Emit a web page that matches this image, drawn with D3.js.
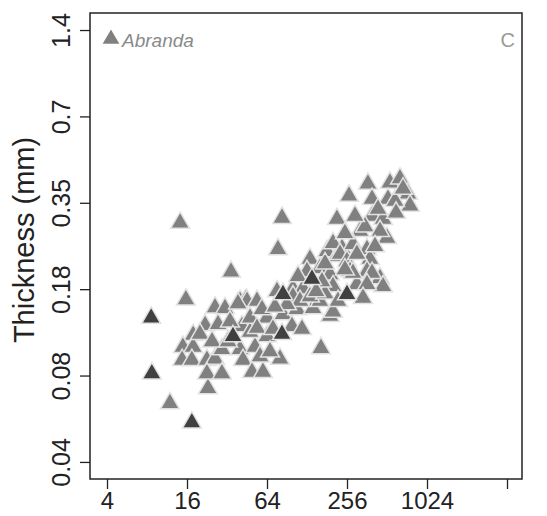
<!DOCTYPE html>
<html>
<head>
<meta charset="utf-8">
<script src="https://cdn.jsdelivr.net/npm/d3@7"></script>
<style>
  html, body { margin: 0; padding: 0; background: #fff; }
  svg { display: block; font-family: "Liberation Sans", Arial, Helvetica, sans-serif; }
</style>
</head>
<body>
<svg id="chart" width="547" height="516"></svg>
<script>
// Shell area (x) versus thickness in mm (y), Abranda specimens
const grayArea = [14.2, 83.0, 77.4, 34.3, 15.7, 11.9, 23.0, 80.2, 163, 21.9, 26.0, 30.9, 40.1, 44.5,
  17.8, 14.9, 17.8, 27.4, 41.5, 33.7, 14.7, 17.4, 22.6, 26.0, 29.3, 40.1, 42.2, 22.6, 29.3, 49.4,
  59.7, 64, 20.0, 24.7, 52.0, 56.7, 67.4, 47.7, 32.6, 134.8, 128, 160, 181, 215, 235, 76.1, 100.4,
  119.4, 190.7, 200.9, 45.3, 53.8, 38.7, 64, 84.4, 107.6, 142, 160, 190.7, 47.7, 53.8, 71.0, 98.7,
  117.4, 58.7, 100.4, 200.9, 113.4, 90.5, 73.5, 134.8, 174.8, 219, 166, 150, 175, 109.5,
  215, 265, 368, 539, 641, 395, 521, 737, 763, 395, 478, 512, 321, 284, 200.9, 227, 362, 381, 256,
  304, 270, 362, 454, 304, 478, 284, 395, 362, 338, 588, 438, 350, 599, 454, 416, 247, 676, 294, 247];
const grayThick = [0.298, 0.310, 0.241, 0.201, 0.161, 0.070, 0.079, 0.100, 0.109, 0.131, 0.151, 0.150, 0.159, 0.161,
  0.121, 0.110, 0.110, 0.132, 0.130, 0.135, 0.099, 0.099, 0.099, 0.100, 0.108, 0.108, 0.099, 0.089, 0.089, 0.090,
  0.090, 0.120, 0.122, 0.115, 0.110, 0.102, 0.106, 0.124, 0.115, 0.223, 0.202, 0.207, 0.237, 0.228, 0.243, 0.172, 0.176,
  0.176, 0.197, 0.179, 0.159, 0.159, 0.156, 0.139, 0.143, 0.149, 0.150, 0.159, 0.141, 0.139, 0.128, 0.127, 0.130,
  0.127, 0.149, 0.165, 0.146, 0.159, 0.155, 0.152, 0.165, 0.169, 0.159, 0.186, 0.172, 0.215, 0.194,
  0.307, 0.370, 0.408, 0.411, 0.425, 0.361, 0.361, 0.376, 0.342, 0.315, 0.307, 0.264, 0.279, 0.251, 0.253, 0.232, 0.241, 0.223, 0.219,
  0.232, 0.202, 0.202, 0.191, 0.182, 0.179, 0.199, 0.199, 0.182, 0.163, 0.355, 0.333, 0.289, 0.323, 0.279, 0.247, 0.274, 0.392, 0.315, 0.205];

const darkArea = [8.6, 8.7, 17.4, 35.5, 83.0, 139.6, 84.4, 256];
const darkThick = [0.139, 0.089, 0.060, 0.120, 0.122, 0.190, 0.168, 0.168];

const xTicks = [4, 16, 64, 256, 1024, 4096];
const xTickLabels = ["4", "16", "64", "256", "1024", ""];
const yTicks = [1.4, 0.7, 0.35, 0.175, 0.0875, 0.04375];
const yTickLabels = ["1.4", "0.7", "0.35", "0.18", "0.08", "0.04"];

const yTitle = "Thickness (mm)";
const legendLabel = "Abranda";
const panelLetter = "C";

const svg = d3.select("#chart");
const plot = { left: 90, right: 522, top: 13, bottom: 479 };

const x = d3.scaleLog().base(2).domain([2.979, 5312]).range([plot.left, plot.right]);
const y = d3.scaleLog().base(2).domain([0.03815, 1.605]).range([plot.bottom, plot.top]);

const fontSize = 25;

// x axis
const xAxis = d3.axisBottom(x).tickValues(xTicks)
  .tickFormat((d, i) => xTickLabels[i]).tickSize(10).tickPadding(3);
const gx = svg.append("g").attr("transform", `translate(0,${plot.bottom})`).call(xAxis);
gx.select(".domain").remove();
gx.selectAll(".tick line").attr("stroke", "#222").attr("stroke-width", 1.3);
gx.selectAll(".tick text").attr("fill", "#222").style("font-size", "24px")
  .style("font-family", "'Liberation Sans', Arial, sans-serif");

// y axis with vertical tick labels
const yAxis = d3.axisLeft(y).tickValues(yTicks)
  .tickFormat((d, i) => yTickLabels[i]).tickSize(10);
const gy = svg.append("g").attr("transform", `translate(${plot.left},0)`).call(yAxis);
gy.select(".domain").remove();
gy.selectAll(".tick line").attr("stroke", "#222").attr("stroke-width", 1.3);
gy.selectAll(".tick text")
  .attr("fill", "#222")
  .attr("x", null).attr("dy", null)
  .attr("text-anchor", "middle")
  .attr("transform", "translate(-20,0) rotate(-90)")
  .style("font-size", fontSize + "px")
  .style("font-family", "'Liberation Sans', Arial, sans-serif");

// axis title
svg.append("text")
  .attr("transform", `translate(34,${(plot.top + plot.bottom) / 2 - 6}) rotate(-90)`)
  .attr("text-anchor", "middle")
  .attr("fill", "#222")
  .style("font-size", "29px")
  .text(yTitle);

// points
const tri = d3.symbol().type(d3.symbolTriangle).size(155);
const grayPts = grayArea.map((a, i) => ({ a, t: grayThick[i] }));
const darkPts = darkArea.map((a, i) => ({ a, t: darkThick[i] }));

svg.append("g").selectAll("path").data(grayPts).join("path")
  .attr("d", tri)
  .attr("transform", d => `translate(${x(d.a)},${y(d.t)})`)
  .attr("fill", "#808080")
  .attr("stroke", "#e2e2e2")
  .attr("stroke-width", 1.5);

svg.append("g").selectAll("path").data(darkPts).join("path")
  .attr("d", tri)
  .attr("transform", d => `translate(${x(d.a)},${y(d.t)})`)
  .attr("fill", "#404040")
  .attr("stroke", "#e2e2e2")
  .attr("stroke-width", 1.5);

// legend
svg.append("path")
  .attr("d", d3.symbol().type(d3.symbolTriangle).size(120)())
  .attr("transform", "translate(111,39)")
  .attr("fill", "#808080");
svg.append("text")
  .attr("x", 122).attr("y", 47)
  .attr("fill", "#8a8a8a")
  .style("font-size", "19px")
  .style("font-style", "italic")
  .text(legendLabel);

svg.append("text")
  .attr("x", 515).attr("y", 47)
  .attr("text-anchor", "end")
  .attr("fill", "#999")
  .style("font-size", "20px")
  .text(panelLetter);

// frame
svg.append("rect")
  .attr("x", plot.left).attr("y", plot.top)
  .attr("width", plot.right - plot.left).attr("height", plot.bottom - plot.top)
  .attr("fill", "none").attr("stroke", "#222").attr("stroke-width", 1.5);
</script>
</body>
</html>
